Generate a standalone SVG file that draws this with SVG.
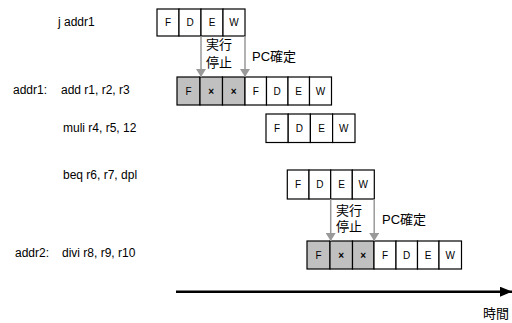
<svg xmlns="http://www.w3.org/2000/svg" width="512" height="323" viewBox="0 0 512 323">
<style>
.lbl{font-family:"Liberation Sans",Arial,sans-serif;font-size:12px;fill:#000}
.jp{font-family:"Liberation Sans","Noto Sans CJK JP",sans-serif;font-size:13px;fill:#000}
.c{fill:#fff;stroke:#000;stroke-width:1.2}
.g{fill:#c0c0c0;stroke:#000;stroke-width:1.2}
.ct{font-family:"Liberation Sans",Arial,sans-serif;font-size:10px;fill:#000;text-anchor:middle;dominant-baseline:central}
.x{font-family:"Liberation Sans",Arial,sans-serif;font-size:10px;font-weight:bold;fill:#000;text-anchor:middle;dominant-baseline:central}
.arr{stroke:#999;stroke-width:1.5;fill:none;marker-end:url(#ah)}
</style>
<defs>
<marker id="ah" viewBox="0 0 8 10" refX="8" refY="5" markerWidth="8" markerHeight="10" markerUnits="userSpaceOnUse" orient="auto">
<path d="M0,0 L8,5 L0,10 Z" fill="#999"/>
</marker>
<marker id="ab" viewBox="0 0 12 10" refX="12" refY="5" markerWidth="12" markerHeight="10" markerUnits="userSpaceOnUse" orient="auto">
<path d="M0,0 L12,5 L0,10 Z" fill="#000"/>
</marker>
</defs>

<g id="labels">
<text class="lbl" x="58" y="26">j addr1</text>
<text class="lbl" x="13" y="94">addr1:</text>
<text class="lbl" x="61" y="94">add r1, r2, r3</text>
<text class="lbl" x="63" y="132">muli r4, r5, 12</text>
<text class="lbl" x="63" y="179">beq r6, r7, dpl</text>
<text class="lbl" x="15" y="257">addr2:</text>
<text class="lbl" x="62" y="257">divi r8,  r9, r10</text>
</g>

<g id="row1">
<rect class="c" x="157" y="9" width="22" height="27"/>
<rect class="c" x="179" y="9" width="22" height="27"/>
<rect class="c" x="201" y="9" width="22" height="27"/>
<rect class="c" x="223" y="9" width="22" height="27"/>
<text class="ct" x="168" y="22.5">F</text>
<text class="ct" x="190" y="22.5">D</text>
<text class="ct" x="212" y="22.5">E</text>
<text class="ct" x="234" y="22.5">W</text>
</g>

<g id="row2">
<rect class="g" x="177" y="77" width="23" height="28"/>
<rect class="g" x="200" y="77" width="22.5" height="28"/>
<rect class="g" x="222.5" y="77" width="22.5" height="28"/>
<rect class="c" x="245" y="77" width="21.5" height="28"/>
<rect class="c" x="266.5" y="77" width="21.5" height="28"/>
<rect class="c" x="288" y="77" width="21.5" height="28"/>
<rect class="c" x="309.5" y="77" width="22" height="28"/>
<text class="ct" x="188.5" y="91">F</text>
<text class="x" x="211.2" y="91">×</text>
<text class="x" x="233.7" y="91">×</text>
<text class="ct" x="255.7" y="91">F</text>
<text class="ct" x="277.2" y="91">D</text>
<text class="ct" x="298.7" y="91">E</text>
<text class="ct" x="320.5" y="91">W</text>
</g>

<g id="row3">
<rect class="c" x="266" y="114" width="22.2" height="28.5"/>
<rect class="c" x="288.2" y="114" width="22.2" height="28.5"/>
<rect class="c" x="310.4" y="114" width="22.2" height="28.5"/>
<rect class="c" x="332.6" y="114" width="22.4" height="28.5"/>
<text class="ct" x="277.1" y="128.2">F</text>
<text class="ct" x="299.3" y="128.2">D</text>
<text class="ct" x="321.5" y="128.2">E</text>
<text class="ct" x="343.8" y="128.2">W</text>
</g>

<g id="row4">
<rect class="c" x="287.3" y="170" width="21.7" height="29"/>
<rect class="c" x="309" y="170" width="21.7" height="29"/>
<rect class="c" x="330.7" y="170" width="21.6" height="29"/>
<rect class="c" x="352.3" y="170" width="22" height="29"/>
<text class="ct" x="298.1" y="184.5">F</text>
<text class="ct" x="319.8" y="184.5">D</text>
<text class="ct" x="341.5" y="184.5">E</text>
<text class="ct" x="363.3" y="184.5">W</text>
</g>

<g id="row5">
<rect class="g" x="307" y="241" width="23" height="28"/>
<rect class="g" x="330" y="241" width="22.5" height="28"/>
<rect class="g" x="352.5" y="241" width="21.5" height="28"/>
<rect class="c" x="374" y="241" width="22" height="28"/>
<rect class="c" x="396" y="241" width="21.5" height="28"/>
<rect class="c" x="417.5" y="241" width="21.5" height="28"/>
<rect class="c" x="439" y="241" width="22.5" height="28"/>
<text class="ct" x="318.5" y="255">F</text>
<text class="x" x="341.2" y="255">×</text>
<text class="x" x="363.2" y="255">×</text>
<text class="ct" x="385" y="255">F</text>
<text class="ct" x="406.7" y="255">D</text>
<text class="ct" x="428.2" y="255">E</text>
<text class="ct" x="450.2" y="255">W</text>
</g>

<g id="connectors">
<line class="arr" x1="201" y1="36" x2="201" y2="77"/>
<line class="arr" x1="245" y1="36" x2="245" y2="77"/>
<line class="arr" x1="330.7" y1="199" x2="330.7" y2="241"/>
<line class="arr" x1="374.2" y1="199" x2="374.2" y2="241"/>
<line x1="176" y1="291.7" x2="512" y2="291.7" stroke="#000" stroke-width="2.5" marker-end="url(#ab)"/>
</g>

<g id="notes">
<text class="jp" x="206" y="49">実行</text>
<text class="jp" x="206" y="67">停止</text>
<text class="jp" x="252" y="61">PC確定</text>
<text class="jp" x="336" y="215">実行</text>
<text class="jp" x="336" y="231">停止</text>
<text class="jp" x="382" y="224">PC確定</text>
<text class="jp" x="483" y="318">時間</text>
</g>
</svg>
